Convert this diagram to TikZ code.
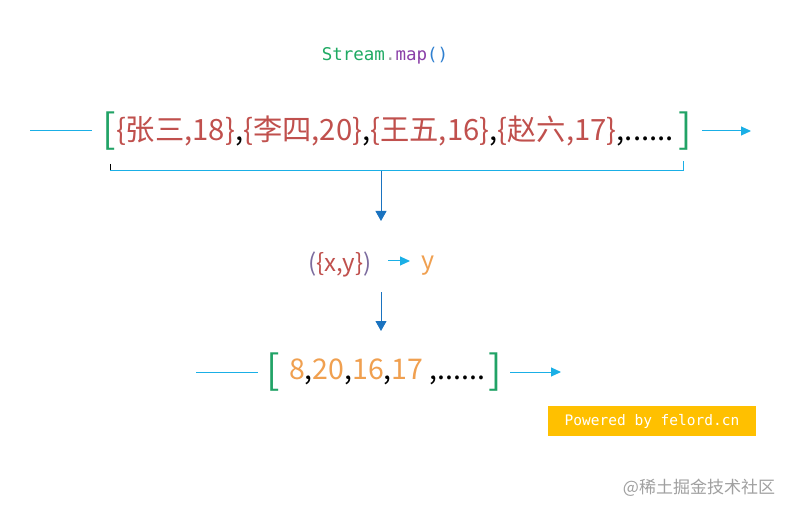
\documentclass[tikz,border=0pt]{standalone}
\usepackage{fontspec}
\newfontfamily\cjk{Noto Sans CJK SC}
\newfontfamily\mono{DejaVu Sans Mono}
\usetikzlibrary{arrows.meta}
\definecolor{cline}{HTML}{1AAFE6}
\definecolor{darr}{HTML}{1A73C0}
\definecolor{brk}{HTML}{21A366}
\definecolor{rtxt}{HTML}{C0504D}
\definecolor{otxt}{HTML}{F0A050}
\definecolor{ptxt}{HTML}{7B6B9E}
\definecolor{sgreen}{HTML}{1FAA63}
\definecolor{smap}{HTML}{8A3FA8}
\definecolor{sparen}{HTML}{2E7FD0}
\definecolor{gold}{HTML}{FFC000}
\definecolor{wm}{HTML}{A0A0A0}
\begin{document}
\begin{tikzpicture}[x=1pt,y=-1pt,
  txt/.style={inner sep=0pt, outer sep=0pt},
  bigt/.style={txt, font=\cjk\fontsize{29.3}{36}\selectfont},
  brak/.style={txt, text=brk, font=\cjk\fontsize{40}{44}\selectfont},
  flow/.style={draw=cline, line width=1pt},
  flowarr/.style={flow, -{Triangle[length=10pt,width=9pt]}},
  downarr/.style={draw=darr, line width=1pt, -{Triangle[length=10pt,width=11pt]}},
  brace/.style={draw=cline, line width=1pt}
]
\useasboundingbox (0,0) rectangle (790,513);
\fill[white] (0,0) rectangle (790,513);

% title
\node[txt, font=\mono\fontsize{17.5}{20}\selectfont] (title) at (385,56)
  {\textcolor{sgreen}{Stream}\textcolor{wm}{.}\textcolor{smap}{map}\textcolor{sparen}{()}};

% top row
\node[brak, anchor=west] (lb) at (102,131) {[};
\node[bigt, anchor=west] (top) at (116,131)
  {\textcolor{rtxt}{\{张三,18\}},\textcolor{rtxt}{\{李四,20\}},\textcolor{rtxt}{\{王五,16\}},\textcolor{rtxt}{\{赵六,17\}},......};
\node[brak, anchor=west] (rb) at (678,131) {]};
\coordinate (tl0) at (30,131);
\coordinate (tl1) at (92,131);
\coordinate (ta0) at (702,131);
\coordinate (ta1) at (751,131);
\draw[flow] (tl0) -- (tl1);
\draw[flowarr] (ta0) -- (ta1);

% bracket under top row
\coordinate (bl) at (110,171);
\coordinate (br) at (683,171);
\coordinate (bm) at (381,171);
\draw[black, line width=1pt] (110,164) -- (bl);
\draw[brace] (bl) -- (br) -- (683,161);

% lambda
\node[txt, font=\cjk\fontsize{24}{28}\selectfont] (lam) at (340,264)
  {\textcolor{ptxt}{(}\textcolor{rtxt}{\{x,y\}}\textcolor{ptxt}{)}};
\node[txt, font=\cjk\fontsize{25}{28}\selectfont, text=otxt] (y) at (428,266) {y};
\coordinate (la0) at (388,261);
\coordinate (la1) at (410,261);
\draw[flowarr] (la0) -- (la1);
\coordinate (d1) at (381,221);
\draw[downarr] (bm) -- (d1);
\coordinate (d2s) at (381,292);
\coordinate (d2) at (381,331);
\draw[downarr] (d2s) -- (d2);

% bottom row
\node[brak, anchor=west] (lb2) at (266,372) {[};
\node[bigt, anchor=west, font=\cjk\fontsize{28.5}{34}\selectfont] (bot) at (289,372)
  {\textcolor{otxt}{8},\textcolor{otxt}{20},\textcolor{otxt}{16},\textcolor{otxt}{17} ,......};
\node[brak, anchor=west] (rb2) at ([xshift=3pt]bot.east) {]};
\coordinate (bl0) at (196,372);
\coordinate (bl1) at (258,372);
\coordinate (ba0) at (510,372);
\coordinate (ba1) at (561,372);
\draw[flow] (bl0) -- (bl1);
\draw[flowarr] (ba0) -- (ba1);

% badge
\node[fill=gold, minimum width=208pt, minimum height=30pt, inner sep=0pt,
  font=\mono\fontsize{14.5}{16}\selectfont, text=white] (badge) at (652,421) {Powered by felord.cn};

% watermark
\node[txt, font=\cjk\fontsize{17}{20}\selectfont, text=wm, anchor=east] (wmk) at (775,488) {@稀土掘金技术社区};
\end{tikzpicture}
\end{document}
